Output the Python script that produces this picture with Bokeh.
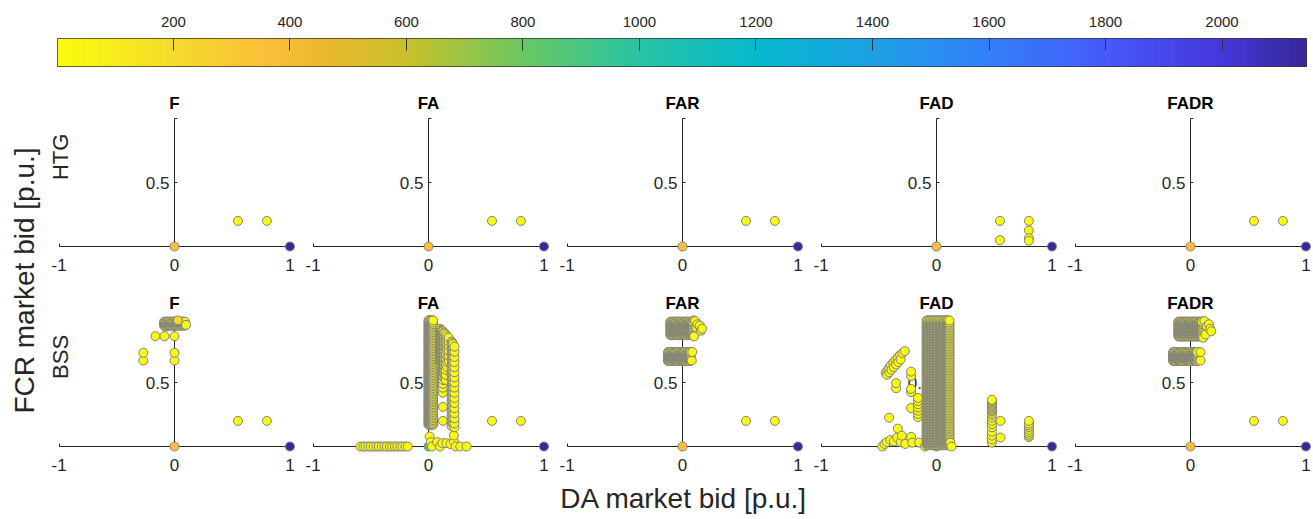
import math
import numpy as np
from bokeh.plotting import figure
from bokeh.layouts import column, row
from bokeh.models import Range1d, LinearAxis, FixedTicker, Label, ColumnDataSource, LinearColorMapper
from bokeh.transform import linear_cmap
from bokeh.embed import file_html
from bokeh.resources import INLINE

FONT = "Liberation Sans"
TXT = "#262626"

# ---------------- texts / scale ----------------
titles = ["F", "FA", "FAR", "FAD", "FADR"]
row_names = ["HTG", "BSS"]
x_label = "DA market bid [p.u.]"
y_label = "FCR market bid [p.u.]"
cbar_ticks = [200, 400, 600, 800, 1000, 1200, 1400, 1600, 1800, 2000]
n_min, n_max = 1, 2145

# colour scale (low -> high)
cmap_pos = [0.0, 0.093, 0.165, 0.21, 0.28, 0.373, 0.466, 0.56, 0.653, 0.746, 0.84, 0.933, 1.0]
cmap_rgb = [(250, 250, 15), (245, 218, 45), (252, 190, 58), (235, 185, 45), (200, 192, 42),
            (105, 200, 98), (40, 195, 165), (5, 185, 205), (30, 160, 228), (50, 128, 248),
            (70, 90, 250), (70, 55, 220), (55, 40, 155)]

# ---------------- HTG row ----------------
htg_x = [0.0, 1.0, 0.55, 0.8]
htg_y = [0.0, 0.0, 0.2, 0.2]
htg_n = [355, 2145, 1, 1]

htg_fad_x = [0.0, 1.0, 0.55, 0.55, 0.8, 0.8, 0.8, 0.8]
htg_fad_y = [0.0, 0.0, 0.2, 0.05, 0.2, 0.125, 0.065, 0.045]
htg_fad_n = [355, 2145, 1, 1, 1, 1, 1, 1]

# ---------------- BSS row ----------------
# F
bss_f_x = [0.0, 1.0]
bss_f_y = [0.0, 0.0]
bss_f_n = [355, 2145]
bss_f_pts_x = [0.55, 0.8, -0.165, -0.087, 0.0, -0.27, -0.27, 0.0, 0.0, -0.08, 0.1]
bss_f_pts_y = [0.2, 0.2, 0.862, 0.862, 0.862, 0.732, 0.672, 0.732, 0.672, 0.935, 0.95]
bss_f_top_xs = [-0.09, -0.08, -0.07, -0.06, -0.05, -0.04, -0.03, -0.02, -0.01, 0.0, 0.01,
                0.02, 0.03, 0.04, 0.05, 0.06, 0.07, 0.08, 0.09]
bss_f_top_ys = [0.945, 0.955, 0.965, 0.975]
bss_f_peak = (0.03, 0.985, 230)

# FA
bss_fa_x = [0.0, 1.0]
bss_fa_y = [0.0, 0.0]
bss_fa_n = [880, 2145]
bss_fa_neg_x = [-0.59, -0.565, -0.545, -0.52, -0.5, -0.475, -0.45, -0.43, -0.405, -0.38,
                -0.36, -0.335, -0.315, -0.29, -0.27, -0.245, -0.225, -0.2, -0.18]
bss_fa_main_cols = [0.0, 0.008, 0.016, 0.024, 0.032, 0.04]
bss_fa_main_ya = [0.17, 0.195, 0.22, 0.245, 0.27, 0.295, 0.32, 0.345, 0.37, 0.395, 0.42,
                  0.445, 0.47, 0.495, 0.52, 0.545, 0.57, 0.595, 0.62, 0.645, 0.67, 0.695,
                  0.72, 0.745, 0.77, 0.795, 0.82, 0.845, 0.87, 0.895, 0.92, 0.945, 0.97]
bss_fa_main_yb = [0.18, 0.207, 0.232, 0.257, 0.282, 0.307, 0.332, 0.357, 0.382, 0.407,
                  0.432, 0.457, 0.482, 0.507, 0.532, 0.557, 0.582, 0.607, 0.632, 0.657,
                  0.682, 0.707, 0.732, 0.757, 0.782, 0.807, 0.832, 0.857, 0.882, 0.907,
                  0.932, 0.957, 0.985]
bss_fa_right = [(0.1, [0.92, 0.895, 0.87, 0.845, 0.82, 0.795, 0.77, 0.745, 0.72, 0.695, 0.67, 0.645]),
                (0.106, [0.91, 0.885, 0.86, 0.835, 0.81, 0.785, 0.76, 0.735, 0.71, 0.685, 0.66]),
                (0.112, [0.905, 0.88, 0.855, 0.83, 0.805, 0.78, 0.755, 0.73, 0.705, 0.68, 0.655]),
                (0.118, [0.9, 0.87, 0.84, 0.81, 0.78, 0.75, 0.72, 0.69, 0.66, 0.63]),
                (0.125, [0.9, 0.875, 0.85, 0.82, 0.79, 0.76, 0.73, 0.7, 0.67, 0.64, 0.61, 0.58,
                         0.55, 0.52, 0.49, 0.46, 0.42, 0.31, 0.2]),
                (0.132, [0.89, 0.865, 0.84, 0.81, 0.78, 0.75, 0.72, 0.69, 0.66, 0.63, 0.6, 0.57]),
                (0.138, [0.885, 0.86, 0.835, 0.805, 0.775, 0.745, 0.715, 0.685, 0.655, 0.625,
                         0.595, 0.565, 0.535]),
                (0.15, [0.875, 0.85, 0.82, 0.79, 0.76, 0.72, 0.68, 0.64, 0.6, 0.56, 0.52]),
                (0.162, [0.86, 0.83, 0.8, 0.77, 0.74, 0.7, 0.66, 0.62]),
                (0.175, [0.85, 0.82, 0.79, 0.75, 0.71, 0.67]),
                (0.2, [0.82, 0.79, 0.76, 0.72, 0.68, 0.64, 0.6, 0.56, 0.52, 0.48, 0.44, 0.4,
                       0.36, 0.32, 0.28, 0.24, 0.2, 0.16]),
                (0.206, [0.81, 0.775, 0.74, 0.705, 0.67, 0.635, 0.6, 0.565, 0.53, 0.495, 0.46,
                         0.425, 0.39, 0.355, 0.32, 0.285, 0.25, 0.215, 0.18]),
                (0.212, [0.8, 0.77, 0.74, 0.7, 0.66, 0.62, 0.58, 0.54, 0.5, 0.46, 0.42, 0.38,
                         0.34, 0.3, 0.26, 0.22, 0.18]),
                (0.225, [0.78, 0.74, 0.7, 0.66, 0.62, 0.58, 0.54, 0.5, 0.46, 0.42, 0.38, 0.34,
                         0.3, 0.26, 0.22, 0.18, 0.15])]
bss_fa_low_x = [0.01, 0.02, 0.03, 0.075, 0.1, 0.12, 0.155, 0.19, 0.22, 0.22, 0.235, 0.275,
                0.33, 0.55, 0.8]
bss_fa_low_y = [0.078, 0.034, 0.0, 0.034, 0.0, 0.026, 0.026, 0.02, 0.086, 0.04, 0.0, 0.0,
                0.0, 0.2, 0.2]

# FAR
bss_far_x = [0.0, 1.0]
bss_far_y = [0.0, 0.0]
bss_far_n = [355, 2145]
bss_far_lo_xs = [-0.125, -0.115, -0.105, -0.095, -0.085, -0.075, -0.065, -0.055, -0.045,
                 -0.035, -0.025, -0.015, -0.005, 0.005, 0.015, 0.025, 0.035, 0.045, 0.055,
                 0.065, 0.07]
bss_far_lo_ys = [0.668, 0.678, 0.688, 0.698, 0.708, 0.718, 0.728, 0.738]
bss_far_hi_xs = [-0.105, -0.095, -0.085, -0.075, -0.065, -0.055, -0.045, -0.035, -0.025,
                 -0.015, -0.005, 0.005, 0.015, 0.025, 0.035, 0.045, 0.055, 0.065, 0.075,
                 0.085, 0.09]
bss_far_hi_ys = [0.87, 0.882, 0.894, 0.906, 0.918, 0.93, 0.942, 0.954, 0.966, 0.975]
bss_far_pts_x = [0.55, 0.8, 0.085, 0.08, 0.1, 0.12, 0.13, 0.15, 0.16, 0.17, 0.11, 0.1]
bss_far_pts_y = [0.2, 0.2, 0.738, 0.672, 0.86, 0.93, 0.955, 0.945, 0.905, 0.92, 0.98, 0.985]

# FAD
bss_fad_x = [0.0, 1.0]
bss_fad_y = [0.0, 0.0]
bss_fad_n = [355, 2145]
bss_fad_core_cols = [-0.085, -0.073, -0.06, -0.048, -0.035, -0.022, -0.01, 0.003, 0.015,
                     0.028, 0.04, 0.053, 0.065, 0.078, 0.09, 0.1, 0.112]
bss_fad_core_ya = [0.02, 0.045, 0.07, 0.095, 0.12, 0.145, 0.17, 0.195, 0.22, 0.245, 0.27,
                   0.295, 0.32, 0.345, 0.37, 0.395, 0.42, 0.445, 0.47, 0.495, 0.52, 0.545,
                   0.57, 0.595, 0.62, 0.645, 0.67, 0.695, 0.72, 0.745, 0.77, 0.795, 0.82,
                   0.845, 0.87, 0.895, 0.92, 0.945, 0.97]
bss_fad_core_yb = [0.01, 0.033, 0.058, 0.083, 0.108, 0.133, 0.158, 0.183, 0.208, 0.233,
                   0.258, 0.283, 0.308, 0.333, 0.358, 0.383, 0.408, 0.433, 0.458, 0.483,
                   0.508, 0.533, 0.558, 0.583, 0.608, 0.633, 0.658, 0.683, 0.708, 0.733,
                   0.758, 0.783, 0.808, 0.833, 0.858, 0.883, 0.908, 0.933, 0.958, 0.985]
bss_fad_side_x = [-0.44, -0.425, -0.41, -0.395, -0.375, -0.355, -0.335, -0.315, -0.295, -0.275,
                  -0.43, -0.41, -0.39, -0.37, -0.35, -0.33, -0.31,
                  -0.35, -0.35, -0.22, -0.22, -0.22, -0.22,
                  -0.16, -0.16, -0.16, -0.16, -0.16, -0.16, -0.16, -0.22, -0.41, -0.08,
                  -0.47, -0.45, -0.43, -0.4, -0.37, -0.34, -0.335, -0.3, -0.31, -0.27,
                  -0.22, -0.21, -0.15, -0.08, -0.1, 0.13, 0.12]
bss_fad_side_y = [0.575, 0.595, 0.615, 0.635, 0.655, 0.675, 0.695, 0.715, 0.73, 0.745,
                  0.56, 0.58, 0.6, 0.62, 0.64, 0.66, 0.68,
                  0.495, 0.455, 0.585, 0.55, 0.45, 0.425,
                  0.38, 0.355, 0.33, 0.305, 0.28, 0.255, 0.23, 0.3, 0.225, 0.155,
                  0.0, 0.02, 0.035, 0.05, 0.04, 0.07, 0.14, 0.085, 0.035, 0.02,
                  0.075, 0.03, 0.03, 0.07, 0.0, 0.0, 0.03]
bss_fad_c48_y = [0.365, 0.355, 0.345, 0.335, 0.325, 0.315, 0.305, 0.295, 0.285, 0.275, 0.26,
                 0.245, 0.225, 0.2, 0.175, 0.15, 0.115, 0.085, 0.055, 0.03]
bss_fad_c55_y = [0.2, 0.07]
bss_fad_c80_y = [0.2, 0.18, 0.165, 0.15, 0.133, 0.115, 0.1, 0.085, 0.073]

# FADR
bss_fadr_x = [0.0, 1.0]
bss_fadr_y = [0.0, 0.0]
bss_fadr_n = [355, 2145]
bss_fadr_lo_xs = [-0.15, -0.14, -0.13, -0.12, -0.11, -0.1, -0.09, -0.08, -0.07, -0.06,
                  -0.05, -0.04, -0.03, -0.02, -0.01, 0.0, 0.01, 0.02, 0.03, 0.04, 0.05, 0.06]
bss_fadr_lo_ys = [0.668, 0.678, 0.688, 0.698, 0.708, 0.718, 0.728, 0.738]
bss_fadr_hi_xs = [-0.105, -0.095, -0.085, -0.075, -0.065, -0.055, -0.045, -0.035, -0.025,
                  -0.015, -0.005, 0.005, 0.015, 0.025, 0.035, 0.045, 0.055, 0.065, 0.075,
                  0.085, 0.095, 0.1]
bss_fadr_hi_ys = [0.86, 0.872, 0.884, 0.896, 0.908, 0.92, 0.932, 0.944, 0.956, 0.968, 0.975]
bss_fadr_pts_x = [0.55, 0.8, 0.087, 0.087, 0.11, 0.13, 0.14, 0.17, 0.18, 0.16, 0.12]
bss_fadr_pts_y = [0.2, 0.2, 0.737, 0.672, 0.85, 0.875, 0.94, 0.92, 0.9, 0.955, 0.98]


# ---------------- helpers ----------------
def build_palette(pos, rgb, n=256):
    out = []
    for i in range(n):
        t = i / (n - 1)
        k = 0
        while k < len(pos) - 2 and t > pos[k + 1]:
            k += 1
        f = (t - pos[k]) / (pos[k + 1] - pos[k])
        c = tuple(int(round(rgb[k][j] + f * (rgb[k + 1][j] - rgb[k][j]))) for j in range(3))
        out.append("#%02x%02x%02x" % c)
    return out


palette = build_palette(cmap_pos, cmap_rgb)


def assemble(base_x, base_y, base_n, pts, tail=None):
    """base points first (large counts), then single observations drawn left->right."""
    pts = sorted(set(pts))
    xs = list(base_x) + [p[0] for p in pts]
    ys = list(base_y) + [p[1] for p in pts]
    ns = list(base_n) + [1] * len(pts)
    if tail:
        xs.append(tail[0]); ys.append(tail[1]); ns.append(tail[2])
    return xs, ys, ns


def grid_pts(xs, ys):
    return [(a, b) for a in xs for b in ys]


def col_pts(cols):
    return [(a, b) for a, yl in cols for b in yl]


# assemble BSS panels
f_pts = grid_pts(bss_f_top_xs, bss_f_top_ys) + list(zip(bss_f_pts_x, bss_f_pts_y))
F = assemble(bss_f_x, bss_f_y, bss_f_n, f_pts, bss_f_peak)

fa_pts = [(a, 0.0) for a in bss_fa_neg_x]
fa_pts += col_pts([(c, bss_fa_main_ya + bss_fa_main_yb) for c in bss_fa_main_cols])
fa_pts += col_pts(bss_fa_right) + list(zip(bss_fa_low_x, bss_fa_low_y))
FA = assemble(bss_fa_x, bss_fa_y, bss_fa_n, fa_pts)

far_pts = grid_pts(bss_far_lo_xs, bss_far_lo_ys) + grid_pts(bss_far_hi_xs, bss_far_hi_ys)
far_pts += list(zip(bss_far_pts_x, bss_far_pts_y))
FAR = assemble(bss_far_x, bss_far_y, bss_far_n, far_pts)

fad_pts = col_pts([(c, bss_fad_core_ya + bss_fad_core_yb) for c in bss_fad_core_cols])
fad_pts += list(zip(bss_fad_side_x, bss_fad_side_y))
fad_pts += col_pts([(0.48, bss_fad_c48_y), (0.555, bss_fad_c55_y), (0.8, bss_fad_c80_y)])
FAD = assemble(bss_fad_x, bss_fad_y, bss_fad_n, fad_pts)

fadr_pts = grid_pts(bss_fadr_lo_xs, bss_fadr_lo_ys) + grid_pts(bss_fadr_hi_xs, bss_fadr_hi_ys)
fadr_pts += list(zip(bss_fadr_pts_x, bss_fadr_pts_y))
FADR = assemble(bss_fadr_x, bss_fadr_y, bss_fadr_n, fadr_pts)

top_data = [(htg_x, htg_y, htg_n), (htg_x, htg_y, htg_n), (htg_x, htg_y, htg_n),
            (htg_fad_x, htg_fad_y, htg_fad_n), (htg_x, htg_y, htg_n)]
bot_data = [F, FA, FAR, FAD, FADR]

# ---------------- figures ----------------
UNIT_X = 115.5
UNIT_Y = 128.0


def panel(data, title, col, row_label):
    width = 254 if col < 4 else 250
    xmax = 1.1 if col < 4 else 1.1 - 4 / UNIT_X
    p = figure(width=width, height=200, x_range=Range1d(-1.1, xmax),
               y_range=Range1d(-34 / UNIT_Y, 166 / UNIT_Y), x_axis_location=None,
               y_axis_location=None, toolbar_location=None, output_backend="svg",
               min_border=0, outline_line_color=None, background_fill_color="white")
    p.xgrid.visible = False
    p.ygrid.visible = False
    xa = LinearAxis(fixed_location=0, bounds=(-1, 1), ticker=FixedTicker(ticks=[-1, 0, 1]),
                    major_label_overrides={-1: "-1", 0: "0", 1: "1"},
                    major_tick_in=3, major_tick_out=0, minor_tick_in=0, minor_tick_out=0,
                    major_label_standoff=12, major_label_text_font=FONT,
                    major_label_text_font_size="17px", major_label_text_color=TXT,
                    axis_line_color=TXT, major_tick_line_color=TXT, level="underlay")
    ya = LinearAxis(fixed_location=0, bounds=(0, 1), ticker=FixedTicker(ticks=[0.5, 1]),
                    major_label_overrides={0.5: "0.5", 1: ""},
                    major_tick_in=3, major_tick_out=0, minor_tick_in=0, minor_tick_out=0,
                    major_label_standoff=5, major_label_text_font=FONT,
                    major_label_text_font_size="17px", major_label_text_color=TXT,
                    axis_line_color=TXT, major_tick_line_color=TXT, level="underlay")
    p.add_layout(xa, "below")
    p.add_layout(ya, "left")
    xs, ys, ns = data
    src = ColumnDataSource(dict(x=xs, y=ys, n=ns))
    p.scatter("x", "y", source=src, marker="circle", size=9,
              fill_color=linear_cmap("n", palette, n_min, n_max),
              line_color="#808080", line_width=1)
    p.add_layout(Label(x=0, y=1.12, text=title, text_align="center", text_baseline="middle",
                       text_font=FONT, text_font_style="bold", text_font_size="17px",
                       text_color="black"))
    if row_label:
        p.add_layout(Label(x=-0.99, y=0.7, text=row_label, angle=math.pi / 2,
                           text_align="center", text_baseline="middle", text_font=FONT,
                           text_font_size="22px", text_color=TXT))
    return p


top_panels = [panel(top_data[i], titles[i], i, row_names[0] if i == 0 else None) for i in range(5)]
bot_panels = [panel(bot_data[i], titles[i], i, row_names[1] if i == 0 else None) for i in range(5)]

# colour bar
mapper = LinearColorMapper(palette=palette, low=n_min, high=n_max)
cb = figure(width=1313, height=80, x_range=Range1d(n_min, n_max), y_range=Range1d(0, 1),
            x_axis_location="above", y_axis_location=None, toolbar_location=None,
            output_backend="svg", min_border_left=57, min_border_right=7,
            min_border_top=38, min_border_bottom=14, outline_line_color="#333333")
cb.xgrid.visible = False
cb.ygrid.visible = False
grad = np.array([np.linspace(n_min, n_max, 600)])
cb.image(image=[grad], x=n_min, y=0, dw=n_max - n_min, dh=1, color_mapper=mapper)
cb.xaxis.ticker = FixedTicker(ticks=cbar_ticks)
cb.xaxis.major_tick_in = 12
cb.xaxis.major_tick_out = 0
cb.xaxis.minor_tick_in = 0
cb.xaxis.minor_tick_out = 0
cb.xaxis.axis_line_color = None
cb.xaxis.major_tick_line_color = "#333333"
cb.xaxis.major_label_text_font = FONT
cb.xaxis.major_label_text_font_size = "15px"
cb.xaxis.major_label_text_color = TXT
cb.xaxis.major_label_standoff = 12

# y label column
yl = figure(width=47, height=400, x_range=Range1d(0, 47), y_range=Range1d(0, 400),
            x_axis_location=None, y_axis_location=None, toolbar_location=None,
            output_backend="svg", min_border=0, outline_line_color=None)
yl.xgrid.visible = False
yl.ygrid.visible = False
yl.add_layout(Label(x=24, y=200, text=y_label, angle=math.pi / 2, text_align="center",
                    text_baseline="middle", text_font=FONT, text_font_size="28px",
                    text_color=TXT))

# x label row
xl = figure(width=1313, height=39, x_range=Range1d(47, 1313), y_range=Range1d(0, 39),
            x_axis_location=None, y_axis_location=None, toolbar_location=None,
            output_backend="svg", min_border=0, min_border_left=47, outline_line_color=None)
xl.xgrid.visible = False
xl.ygrid.visible = False
xl.add_layout(Label(x=682, y=21, text=x_label, text_align="center", text_baseline="middle",
                    text_font=FONT, text_font_size="28px", text_color=TXT))

grid = column(row(*top_panels, spacing=0), row(*bot_panels, spacing=0), spacing=0)
layout = column(cb, row(yl, grid, spacing=0), xl, spacing=0)

open("out.html", "w").write(file_html(layout, INLINE))
